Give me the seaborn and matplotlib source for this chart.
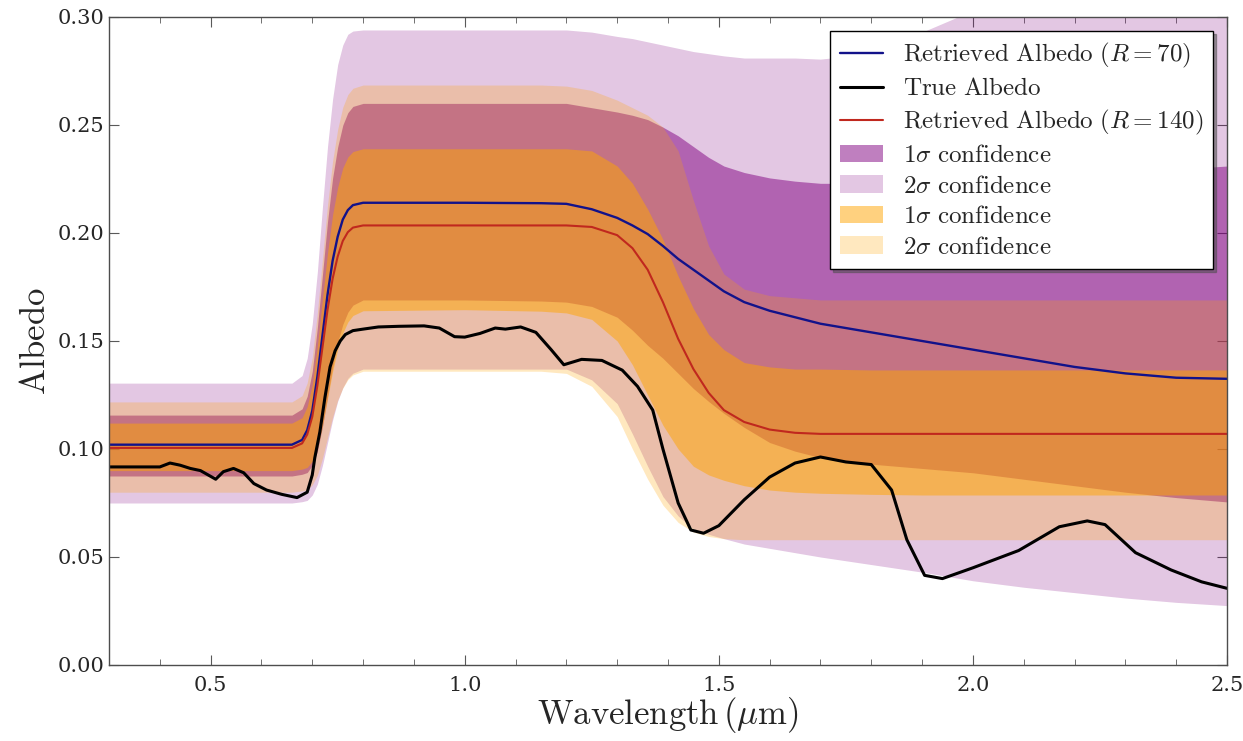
import matplotlib
matplotlib.use("Agg")
import matplotlib.pyplot as plt
import seaborn as sns
import numpy as np

# wavelength grid used for the retrieved curves and the confidence bands
wl = [0.30, 0.60, 0.66, 0.68, 0.69, 0.70, 0.71, 0.72, 0.73, 0.74, 0.75, 0.76, 0.77, 0.78, 0.80,
      1.00, 1.15, 1.20, 1.25, 1.30, 1.33, 1.36, 1.39, 1.42, 1.45, 1.48, 1.51, 1.55, 1.60, 1.65,
      1.70, 1.80, 1.90, 2.00, 2.10, 2.20, 2.30, 2.40, 2.50]

# retrieved albedo, R=70 (blue) and R=140 (red)
alb_r70 = [0.102, 0.102, 0.102, 0.1042, 0.1087, 0.1177, 0.1334, 0.1524, 0.1714, 0.1871, 0.1983, 0.2062, 0.2106, 0.2129, 0.214,
           0.214, 0.2138, 0.2135, 0.211, 0.207, 0.2035, 0.1995, 0.194, 0.188, 0.183, 0.178, 0.173, 0.168, 0.164, 0.161,
           0.158, 0.154, 0.150, 0.146, 0.142, 0.138, 0.135, 0.133, 0.1325]
alb_r140 = [0.1005, 0.1005, 0.1005, 0.1026, 0.1067, 0.1149, 0.1293, 0.1469, 0.1644, 0.1788, 0.1891, 0.1963, 0.2004, 0.2025, 0.2035,
            0.2035, 0.2035, 0.2035, 0.2028, 0.199, 0.193, 0.183, 0.168, 0.151, 0.137, 0.126, 0.118, 0.1125, 0.109, 0.1075,
            0.107, 0.107, 0.107, 0.107, 0.107, 0.107, 0.107, 0.107, 0.107]

# R=70 confidence bounds (purple)
r70_2s_lo = [0.075, 0.075, 0.075, 0.0756, 0.0762, 0.0787, 0.0837, 0.0924, 0.1029, 0.1134, 0.1221, 0.1283, 0.1327, 0.1351, 0.137,
             0.137, 0.137, 0.137, 0.132, 0.121, 0.107, 0.092, 0.078, 0.069, 0.063, 0.0605, 0.0585, 0.056, 0.054, 0.052,
             0.050, 0.0465, 0.043, 0.039, 0.036, 0.0335, 0.031, 0.029, 0.0275]
r70_2s_hi = [0.1305, 0.1305, 0.1305, 0.134, 0.142, 0.158, 0.182, 0.212, 0.240, 0.262, 0.278, 0.287, 0.292, 0.2935, 0.294,
             0.294, 0.294, 0.294, 0.293, 0.291, 0.290, 0.2885, 0.287, 0.2855, 0.284, 0.283, 0.282, 0.281, 0.281, 0.281,
             0.2805, 0.283, 0.293, 0.303, 0.308, 0.312, 0.315, 0.318, 0.320]
r70_1s_lo = [0.0875, 0.0875, 0.0875, 0.0883, 0.0891, 0.0924, 0.0989, 0.1103, 0.1242, 0.138, 0.1494, 0.1576, 0.1633, 0.1666, 0.169,
             0.169, 0.1685, 0.168, 0.166, 0.161, 0.155, 0.148, 0.142, 0.135, 0.128, 0.122, 0.1165, 0.110, 0.103, 0.099,
             0.096, 0.093, 0.091, 0.089, 0.086, 0.083, 0.080, 0.0775, 0.0755]
r70_1s_hi = [0.1157, 0.1157, 0.1157, 0.1186, 0.1244, 0.1359, 0.1561, 0.1806, 0.2052, 0.2254, 0.2398, 0.2499, 0.2557, 0.2586, 0.260,
             0.260, 0.260, 0.260, 0.258, 0.256, 0.2545, 0.2525, 0.249, 0.245, 0.240, 0.235, 0.231, 0.228, 0.2255, 0.224,
             0.223, 0.223, 0.224, 0.225, 0.226, 0.227, 0.2285, 0.2295, 0.231]

# R=140 confidence bounds (orange)
r140_2s_lo = [0.080, 0.080, 0.080, 0.0806, 0.0811, 0.0834, 0.0878, 0.0957, 0.1052, 0.1147, 0.1226, 0.1282, 0.1321, 0.1343, 0.136,
              0.136, 0.136, 0.135, 0.129, 0.115, 0.100, 0.086, 0.074, 0.066, 0.0615, 0.0595, 0.0585, 0.058, 0.058, 0.058,
              0.058, 0.058, 0.058, 0.058, 0.058, 0.058, 0.058, 0.058, 0.058]
r140_2s_hi = [0.1218, 0.1218, 0.1218, 0.1247, 0.1306, 0.1423, 0.1629, 0.1878, 0.2128, 0.2333, 0.248, 0.2582, 0.2641, 0.267, 0.2685,
              0.2685, 0.2685, 0.268, 0.266, 0.2615, 0.258, 0.2545, 0.249, 0.238, 0.215, 0.194, 0.181, 0.174, 0.171, 0.170,
              0.169, 0.169, 0.169, 0.169, 0.169, 0.169, 0.169, 0.169, 0.169]
r140_1s_lo = [0.090, 0.090, 0.090, 0.0907, 0.0915, 0.0944, 0.1004, 0.1107, 0.1233, 0.1359, 0.1462, 0.1536, 0.1588, 0.1618, 0.164,
              0.1645, 0.1638, 0.163, 0.160, 0.150, 0.139, 0.125, 0.111, 0.100, 0.092, 0.088, 0.0855, 0.083, 0.081, 0.080,
              0.0795, 0.079, 0.0787, 0.0787, 0.0787, 0.0787, 0.0787, 0.0787, 0.0787]
r140_1s_hi = [0.112, 0.112, 0.112, 0.1145, 0.1196, 0.1298, 0.1476, 0.1692, 0.1907, 0.2085, 0.2212, 0.2301, 0.2352, 0.2377, 0.239,
              0.239, 0.239, 0.239, 0.238, 0.231, 0.223, 0.211, 0.197, 0.180, 0.165, 0.153, 0.146, 0.140, 0.138, 0.137,
              0.137, 0.1366, 0.1366, 0.1366, 0.1366, 0.1366, 0.1366, 0.1366, 0.1366]

# true albedo (black)
wl_true = [0.30, 0.40, 0.42, 0.44, 0.46, 0.48, 0.51, 0.525, 0.545, 0.565, 0.585, 0.61, 0.64, 0.67, 0.69, 0.70,
           0.705, 0.715, 0.725, 0.735, 0.745, 0.755, 0.765, 0.78, 0.80, 0.83, 0.87, 0.92, 0.95, 0.98, 1.00, 1.03,
           1.06, 1.08, 1.11, 1.14, 1.17, 1.195, 1.23, 1.27, 1.31, 1.34, 1.37, 1.39, 1.42, 1.445, 1.47, 1.50,
           1.55, 1.60, 1.65, 1.70, 1.75, 1.80, 1.84, 1.87, 1.905, 1.94, 2.00, 2.09, 2.17, 2.225, 2.26, 2.32,
           2.39, 2.45, 2.50]
alb_true = [0.0917, 0.0917, 0.0935, 0.0925, 0.0910, 0.0900, 0.0860, 0.0895, 0.0910, 0.0890, 0.0840, 0.0810, 0.0790,
            0.0775, 0.0800, 0.0880, 0.0960, 0.1080, 0.1240, 0.1380, 0.1455, 0.1500, 0.1530, 0.1548, 0.1555, 0.1565,
            0.1568, 0.1570, 0.1560, 0.1520, 0.1518, 0.1535, 0.1560, 0.1555, 0.1565, 0.1540, 0.1460, 0.1390, 0.1415,
            0.1410, 0.1365, 0.1290, 0.1180, 0.1000, 0.0750, 0.0625, 0.0610, 0.0645, 0.0765, 0.0870, 0.0935, 0.0963,
            0.0940, 0.0928, 0.0810, 0.0580, 0.0415, 0.0400, 0.0450, 0.0530, 0.0640, 0.0667, 0.0650, 0.0520, 0.0440,
            0.0385, 0.0355]

sns.set_style("ticks")
plt.rcParams["font.family"] = ["DejaVu Serif"]
plt.rcParams["mathtext.fontset"] = "cm"

fig = plt.figure(figsize=(12.43, 7.41), dpi=100)
ax = fig.add_axes([109 / 1243, 1 - 665 / 741, (1227 - 109) / 1243, (665 - 17) / 741])

# confidence regions, purple first then orange on top
p2 = ax.fill_between(wl, r70_2s_lo, r70_2s_hi, color="#800080", alpha=0.22, lw=0)
p1 = ax.fill_between(wl, r70_1s_lo, r70_1s_hi, color="#800080", alpha=0.5, lw=0)
o2 = ax.fill_between(wl, r140_2s_lo, r140_2s_hi, color="#ffa500", alpha=0.25, lw=0)
o1 = ax.fill_between(wl, r140_1s_lo, r140_1s_hi, color="#ffa500", alpha=0.5, lw=0)

sns.lineplot(x=wl, y=alb_r70, color="#12128a", lw=1.7, ax=ax)
sns.lineplot(x=wl_true, y=alb_true, color="black", lw=2.2, ax=ax)
sns.lineplot(x=wl, y=alb_r140, color="#c0281e", lw=1.5, ax=ax)
l70, ltrue, l140 = ax.lines[:3]

ax.set_xlim(0.3, 2.5)
ax.set_ylim(0.0, 0.30)
ax.set_xticks([0.5, 1.0, 1.5, 2.0, 2.5])
ax.set_xticks(np.arange(0.4, 2.5, 0.1), minor=True)
ax.set_yticks([0.0, 0.05, 0.10, 0.15, 0.20, 0.25, 0.30])
ax.tick_params(which="both", direction="in", top=True, right=True, labelsize=15, color="0.35")
ax.tick_params(which="major", length=7)
ax.tick_params(which="minor", length=4)
ax.tick_params(axis="x", pad=8)
for s in ax.spines.values():
    s.set_color("0.3")
    s.set_linewidth(1.0)

ax.set_xlabel(r"$\mathrm{Wavelength}\,(\mathrm{\mu m})$", fontsize=25, labelpad=0)
ax.set_ylabel(r"$\mathrm{Albedo}$", fontsize=25, labelpad=4)

handles = [l70, ltrue, l140, p1, p2, o1, o2]
labels = [r"$\mathrm{Retrieved\ Albedo}\ (R=70)$",
          r"$\mathrm{True\ Albedo}$",
          r"$\mathrm{Retrieved\ Albedo}\ (R=140)$",
          r"$1\sigma\ \mathrm{confidence}$",
          r"$2\sigma\ \mathrm{confidence}$",
          r"$1\sigma\ \mathrm{confidence}$",
          r"$2\sigma\ \mathrm{confidence}$"]
leg = ax.legend(handles, labels, loc="upper right", fontsize=18, frameon=True, fancybox=False,
                shadow=True, framealpha=1, edgecolor="black", labelspacing=0.3,
                handlelength=1.7, handletextpad=0.8, borderaxespad=0.55)
leg.get_frame().set_linewidth(1.0)

fig.savefig("out.png", dpi=100)
